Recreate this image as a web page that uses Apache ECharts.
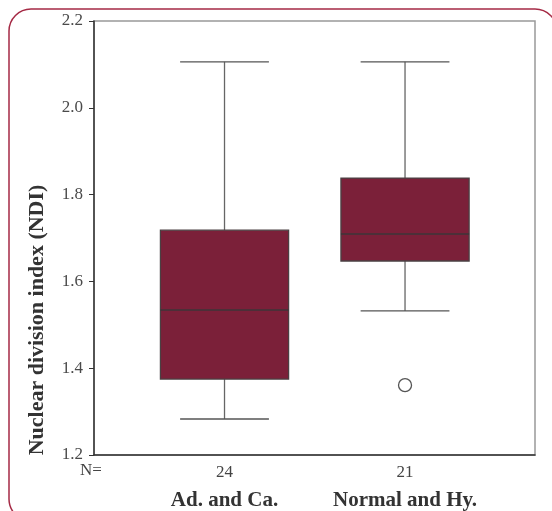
<!DOCTYPE html>
<html><head><meta charset="utf-8">
<script src="https://cdn.jsdelivr.net/npm/echarts@6/dist/echarts.min.js"></script>
<style>html,body{margin:0;padding:0;background:#fff}#c{width:552px;height:511px}</style>
</head><body><div id="c"></div>
<script>
const categories = ['Ad. and Ca.', 'Normal and Hy.'];
const counts = ['24', '21'];
// [min, Q1, median, Q3, max]
const boxMin = [1.283, 1.532];
const boxQ1 = [1.375, 1.647];
const boxMedian = [1.534, 1.709];
const boxQ3 = [1.718, 1.838];
const boxMax = [2.106, 2.106];
const outliers = [[2, 1.361]];
const yTicks = [1.2, 1.4, 1.6, 1.8, 2.0, 2.2];

const boxData = categories.map((c, i) => [i + 1, boxMin[i], boxQ1[i], boxMedian[i], boxQ3[i], boxMax[i]]);
const serif = '"Liberation Serif", "DejaVu Serif", serif';

const chart = echarts.init(document.getElementById('c'), null, {renderer: 'canvas'});
chart.setOption({
  animation: false,
  backgroundColor: '#fff',
  grid: {left: 94, right: 17, top: 21, bottom: 56, show: true, borderColor: '#999', borderWidth: 1.5, backgroundColor: 'transparent'},
  xAxis: {
    type: 'value', min: 0.277, max: 2.72,
    splitLine: {show: false},
    axisLine: {show: true, onZero: false, lineStyle: {color: '#333', width: 1.5}},
    axisTick: {show: false},
    axisLabel: {
      customValues: [1, 2],
      margin: 7,
      fontFamily: serif,
      formatter: (v) => {
        const i = Math.round(v) - 1;
        return '{n|' + counts[i] + '}\n{c|' + categories[i] + '}';
      },
      rich: {
        n: {fontFamily: serif, fontSize: 17, color: '#444', lineHeight: 22},
        c: {fontFamily: serif, fontSize: 21, fontWeight: 'bold', color: '#333', lineHeight: 33}
      }
    }
  },
  yAxis: {
    type: 'value', min: yTicks[0], max: yTicks[yTicks.length - 1], interval: 0.2,
    splitLine: {show: false},
    axisLine: {show: true, lineStyle: {color: '#333', width: 1.5}},
    axisTick: {show: true, length: 5, lineStyle: {color: '#333'}},
    axisLabel: {fontFamily: serif, fontSize: 17, color: '#4a4a4a', margin: 11, formatter: (v) => v.toFixed(1)}
  },
  graphic: [
    {type: 'rect', shape: {x: 9, y: 9, width: 548, height: 512, r: 22}, style: {fill: 'none', stroke: '#a52a45', lineWidth: 1.5}, silent: true},
    {type: 'text', x: 37, y: 320, rotation: Math.PI / 2, style: {text: 'Nuclear division index (NDI)', font: 'bold 22px ' + serif, fill: '#333', textAlign: 'center', textVerticalAlign: 'middle'}},
    {type: 'text', x: 91, y: 471, style: {text: 'N=', font: '17px ' + serif, fill: '#444', textAlign: 'center', textVerticalAlign: 'middle'}}
  ],
  series: [
    {
      type: 'custom',
      data: boxData,
      encode: {x: 0, y: [1, 2, 3, 4, 5]},
      renderItem: (params, api) => {
        const x = api.value(0);
        const unit = api.size([1, 0])[0];
        const hb = unit * 0.355, hc = unit * 0.246;
        const pMin = api.coord([x, api.value(1)]);
        const pQ1 = api.coord([x, api.value(2)]);
        const pMed = api.coord([x, api.value(3)]);
        const pQ3 = api.coord([x, api.value(4)]);
        const pMax = api.coord([x, api.value(5)]);
        const cx = pMed[0];
        const lineStyle = {stroke: '#666', lineWidth: 1.3};
        return {
          type: 'group',
          children: [
            {type: 'line', shape: {x1: cx, y1: pQ3[1], x2: cx, y2: pMax[1]}, style: lineStyle},
            {type: 'line', shape: {x1: cx, y1: pQ1[1], x2: cx, y2: pMin[1]}, style: lineStyle},
            {type: 'line', shape: {x1: cx - hc, y1: pMax[1], x2: cx + hc, y2: pMax[1]}, style: {stroke: '#555', lineWidth: 1.3}},
            {type: 'line', shape: {x1: cx - hc, y1: pMin[1], x2: cx + hc, y2: pMin[1]}, style: {stroke: '#555', lineWidth: 1.3}},
            {type: 'rect', shape: {x: cx - hb, y: pQ3[1], width: 2 * hb, height: pQ1[1] - pQ3[1]}, style: {fill: '#7b2039', stroke: '#4a4043', lineWidth: 1.3}},
            {type: 'line', shape: {x1: cx - hb, y1: pMed[1], x2: cx + hb, y2: pMed[1]}, style: {stroke: '#3d3538', lineWidth: 1.5}}
          ]
        };
      }
    },
    {
      type: 'scatter',
      data: outliers,
      symbol: 'circle',
      symbolSize: 13,
      itemStyle: {color: '#fff', borderColor: '#555', borderWidth: 1.3, opacity: 1}
    }
  ]
});
</script></body></html>
